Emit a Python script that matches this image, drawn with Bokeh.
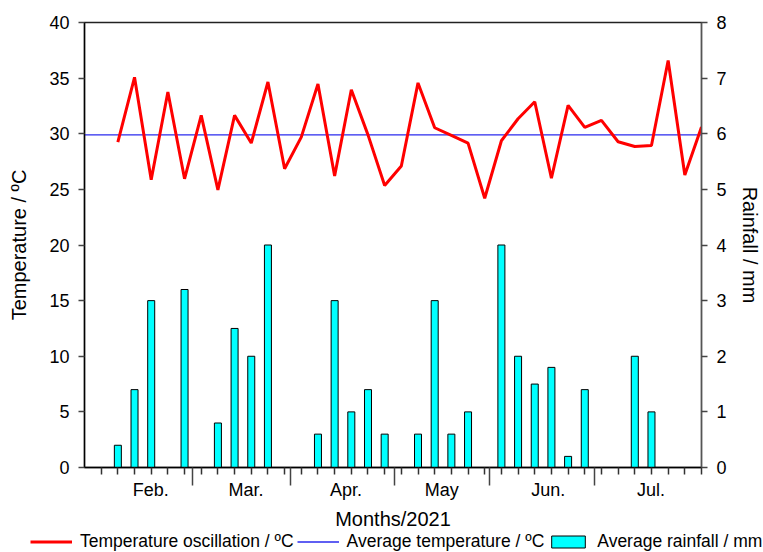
from bokeh.plotting import figure
from bokeh.layouts import column
from bokeh.models import (LinearAxis, Range1d, FixedTicker, Legend, LegendItem,
                          CustomLabelingPolicy)
from bokeh.embed import file_html
from bokeh.resources import INLINE

# ---------------- data ----------------
temp_pos = list(range(2, 38))
temp_values = [29.25, 35.07, 25.86, 33.75, 25.95, 31.65, 24.95, 31.65, 29.16, 34.65,
               26.85, 29.7, 34.47, 26.2, 33.96, 29.9, 25.35, 27.1, 34.57, 30.54,
               29.85, 29.16, 24.2, 29.37, 31.35, 32.88, 26.0, 32.55, 30.57, 31.2,
               29.28, 28.86, 28.95, 36.58, 26.3, 30.6]
avg_temp = 29.9

rain_pos = [2, 3, 4, 6, 8, 9, 10, 11, 14, 15, 16, 17, 18, 20, 21, 22, 23,
            25, 26, 27, 28, 29, 30, 33, 34]
rain_values = [0.4, 1.4, 3.0, 3.2, 0.8, 2.5, 2.0, 4.0, 0.6, 3.0, 1.0, 1.4, 0.6,
               0.6, 3.0, 0.6, 1.0, 4.0, 2.0, 1.5, 1.8, 0.2, 1.4, 2.0, 1.0]

months = ["Feb.", "Mar.", "Apr.", "May", "Jun.", "Jul."]
month_centers = [3.97, 9.69, 15.68, 21.42, 27.81, 33.97]
month_bounds = [6.45, 12.38, 18.56, 24.27, 30.60]
minor_positions = list(range(1, 38))
x_start, x_end = 0, 37
temp_ticks = [0, 5, 10, 15, 20, 25, 30, 35, 40]
rain_ticks = [0, 1, 2, 3, 4, 5, 6, 7, 8]
legend_labels = ["Temperature oscillation / ºC", "Average temperature / ºC",
                 "Average rainfall / mm"]

FONT = "Liberation Sans"
RED = "#ff0000"
BLUE = "#2a2aee"
CYAN = "#00ffff"

p = figure(width=763, height=532, output_backend="svg", toolbar_location=None,
           x_range=Range1d(x_start, x_end), y_range=Range1d(0, 40),
           x_axis_location=None, y_axis_location=None,
           min_border_left=84, min_border_right=61, min_border_top=22,
           min_border_bottom=65)
p.extra_y_ranges = {"rain": Range1d(0, 8)}
p.grid.visible = False
p.outline_line_color = "#222222"
p.outline_line_width = 1.3
p.background_fill_color = "white"
p.border_fill_color = "white"


def style_y(ax, line_color):
    ax.axis_line_color = line_color
    ax.axis_line_width = 1.5
    ax.major_tick_out = 6
    ax.major_tick_in = 0
    ax.major_tick_line_color = "#444444"
    ax.major_tick_line_width = 1.5
    ax.minor_tick_out = 0
    ax.minor_tick_in = 0
    ax.major_label_standoff = 9
    ax.major_label_text_font = FONT
    ax.major_label_text_font_size = "18px"
    ax.major_label_text_color = "black"
    ax.axis_label_text_font = FONT
    ax.axis_label_text_font_size = "20px"
    ax.axis_label_text_font_style = "normal"
    ax.axis_label_text_color = "black"


ya = LinearAxis(ticker=FixedTicker(ticks=temp_ticks, minor_ticks=[]),
                axis_label="Temperature / ºC")
style_y(ya, "black")
ya.axis_label_standoff = 16
p.add_layout(ya, "left")

yr = LinearAxis(ticker=FixedTicker(ticks=rain_ticks, minor_ticks=[]),
                y_range_name="rain", axis_label="Rainfall / mm")
style_y(yr, "#555555")
yr.axis_label_standoff = 9
p.add_layout(yr, "right")

# bottom axis: month boundary ticks and sampling ticks, no labels
no_labels = CustomLabelingPolicy(code="""
if (indices != null && typeof indices.unset === "function") {
    for (const i of [...indices]) indices.unset(i)
    return indices
}
return new Set()
""")
xa = LinearAxis(ticker=FixedTicker(ticks=month_bounds, minor_ticks=minor_positions),
                major_label_policy=no_labels)
xa.axis_line_color = "black"
xa.axis_line_width = 1.5
xa.major_tick_out = 18
xa.major_tick_in = 0
xa.minor_tick_out = 7
xa.minor_tick_in = 0
xa.major_tick_line_color = "#444444"
xa.minor_tick_line_color = "#333333"
xa.major_tick_line_width = 1.5
xa.minor_tick_line_width = 1.5
xa.major_label_text_font_size = "0px"
xa.major_label_standoff = 0
p.add_layout(xa, "below")

# month names axis
xm = LinearAxis(ticker=FixedTicker(ticks=month_centers, minor_ticks=[]),
                axis_label="Months/2021")
xm.major_label_overrides = {c: m for c, m in zip(month_centers, months)}
xm.axis_line_color = None
xm.major_tick_out = 0
xm.major_tick_in = 0
xm.minor_tick_out = 0
xm.minor_tick_in = 0
xm.major_label_standoff = -6
xm.major_label_text_font = FONT
xm.major_label_text_font_size = "18px"
xm.major_label_text_color = "black"
xm.axis_label_text_font = FONT
xm.axis_label_text_font_size = "20px"
xm.axis_label_text_font_style = "normal"
xm.axis_label_text_color = "black"
xm.axis_label_standoff = 5
p.add_layout(xm, "below")

# glyphs
p.vbar(x=rain_pos, top=rain_values, bottom=0, width=0.42,
       fill_color=CYAN, line_color="black", line_width=1, y_range_name="rain")
p.line([x_start, x_end], [avg_temp, avg_temp], line_color=BLUE, line_width=1.4)
p.line(temp_pos, temp_values, line_color=RED, line_width=3)

# legend strip below the chart (its own renderers lie outside its view,
# only their legend swatches show)
lg = figure(width=763, height=20, output_backend="svg", toolbar_location=None,
            x_range=Range1d(-10, -9), y_range=Range1d(-10, -9),
            x_axis_location=None, y_axis_location=None,
            min_border=0, min_border_left=0, min_border_right=0,
            min_border_top=0, min_border_bottom=0)
lg.frame_align = False
lg.grid.visible = False
lg.outline_line_color = None
lg.background_fill_color = "white"
lg.border_fill_color = "white"
r1 = lg.line(temp_pos, temp_values, line_color=RED, line_width=3)
r2 = lg.line([x_start, x_end], [avg_temp, avg_temp], line_color=BLUE,
             line_width=1.4)
r3 = lg.vbar(x=rain_pos, top=rain_values, bottom=0, width=0.42,
             fill_color=CYAN, line_color="black", line_width=1)

legend = Legend(items=[LegendItem(label=t, renderers=[r])
                       for t, r in zip(legend_labels, [r1, r2, r3])],
                orientation="horizontal", location=(30, 0), glyph_width=42,
                glyph_height=15, label_standoff=8, spacing=3, padding=0, margin=0,
                background_fill_alpha=0, border_line_color=None,
                label_text_font=FONT, label_text_font_size="17.5px",
                label_text_color="black")
lg.add_layout(legend, "center")

layout = column(p, lg, spacing=0)
open("out.html", "w").write(file_html(layout, INLINE))
